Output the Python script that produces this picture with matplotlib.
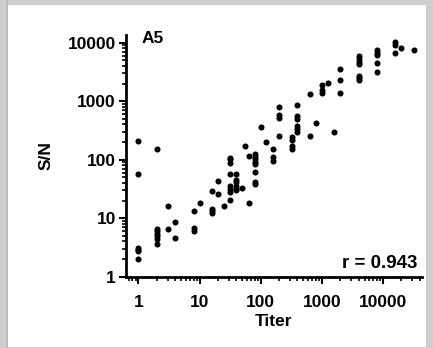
import matplotlib
matplotlib.use('Agg')
import matplotlib.pyplot as plt
from matplotlib.patches import Rectangle
from matplotlib.ticker import FixedLocator, NullFormatter

# titer (x) and S/N (y) values
titer = [1, 1, 1, 1, 1, 1,
         2, 2, 2, 2, 2, 2, 2,
         3, 3,
         4, 4,
         8, 8, 8,
         10,
         16, 16, 16, 16,
         20, 20,
         25,
         32, 32, 32, 32, 32, 32, 32, 32,
         40, 40, 40, 40, 40, 40,
         50,
         56,
         64, 64,
         80, 80, 80, 80, 80, 80, 80, 80,
         100,
         120,
         160, 160, 160,
         200, 200, 200, 200,
         320, 320, 320, 320,
         400, 400, 400, 400, 400, 400,
         640, 640,
         800,
         1000, 1000, 1000,
         1280,
         1600,
         2000, 2000, 2000,
         4000, 4000, 4000, 4000, 4000, 4000, 4000,
         8000, 8000, 8000, 8000, 8000,
         16000, 16000, 16000,
         20000,
         32000]
sn = [210, 57, 3.1, 2.9, 2.7, 2.0,
      150, 6.6, 6.0, 5.4, 4.9, 4.4, 3.6,
      16.3, 6.6,
      8.7, 4.6,
      13.5, 6.9, 6.0,
      18.5,
      29.5, 14.6, 13.3, 12.1,
      44, 25.5,
      16.4,
      108, 101, 89, 58, 35, 32, 28.5, 20.3,
      57, 45, 41, 36, 32, 30,
      32.4,
      172,
      117, 18.5,
      123, 112, 102, 90, 83, 61, 41, 38,
      366,
      203,
      155, 110, 96,
      805, 574, 516, 254,
      240, 217, 169, 152,
      860, 558, 502, 381, 339, 301,
      1320, 254,
      432,
      1900, 1550, 1400,
      2020,
      303,
      3530, 2260, 1370,
      5900, 5200, 4700, 4300, 2750, 2500, 2300,
      7400, 6700, 6200, 4550, 3150,
      10200, 9300, 6600,
      8100,
      7550]

major = [1, 10, 100, 1000, 10000]
major_labels = ['1', '10', '100', '1000', '10000']
panel = 'A5'
r_text = 'r = 0.943'

plt.rcParams['font.family'] = ['Liberation Sans', 'DejaVu Sans']
plt.rcParams['font.weight'] = 'bold'

fig = plt.figure(figsize=(4.33, 3.48), dpi=100)
fig.patch.set_facecolor('#cdcdcd')
# soft shadow on the left edge of the card
for i, c in enumerate(['#d6d6d6', '#cccccc', '#c2c2c2', '#b8b8b8']):
    fig.add_artist(Rectangle(((4 + i) / 433, 0), 1 / 433, 1,
                             transform=fig.transFigure, facecolor=c,
                             edgecolor='none', zorder=-6))
# white card on the gray frame (behind the axes)
fig.add_artist(Rectangle((8 / 433, 1 / 348), 418 / 433, 342 / 348,
                         transform=fig.transFigure, facecolor='white',
                         edgecolor='none', zorder=-5))

ax = fig.add_axes([125.7 / 433, 1 - 276.7 / 348, 296 / 433, 241.7 / 348])
ax.set_facecolor('none')
ax.scatter(titer, sn, s=19, color='black', linewidths=0, zorder=3, clip_on=False)

ax.set_xscale('log')
ax.set_yscale('log')
ax.set_xlim(0.62, 43000)
ax.set_ylim(1, 13550)

# ticks
ax.xaxis.set_major_locator(FixedLocator(major))
ax.set_xticklabels(major_labels)
ax.yaxis.set_major_locator(FixedLocator(major))
ax.set_yticklabels(major_labels)
xminor = [m * d for d in [0.1, 1, 10, 100, 1000, 10000] for m in range(2, 10)]
xminor = [v for v in xminor if 0.62 <= v <= 43000]
yminor = [m * d for d in [1, 10, 100, 1000] for m in range(2, 10)]
ax.xaxis.set_minor_locator(FixedLocator(xminor))
ax.yaxis.set_minor_locator(FixedLocator(yminor))
ax.xaxis.set_minor_formatter(NullFormatter())
ax.yaxis.set_minor_formatter(NullFormatter())

ax.tick_params(axis='both', which='major', direction='out', length=5, width=1.5,
               labelsize=12.5, color='black')
ax.tick_params(axis='both', which='minor', direction='out', length=3, width=1.2)
ax.tick_params(axis='x', which='major', pad=8)
ax.tick_params(axis='y', which='major', pad=2)

for side in ['top', 'right']:
    ax.spines[side].set_visible(False)
for side in ['left', 'bottom']:
    ax.spines[side].set_linewidth(2)

ax.set_xlabel('Titer', fontsize=12.5, fontweight='bold', labelpad=3)
ax.set_ylabel('S/N', fontsize=12.5, fontweight='bold', labelpad=10)

ax.text(0.055, 0.985, panel, transform=ax.transAxes, fontsize=12.5,
        fontweight='bold', va='center', ha='left')
ax.text(0.985, 0.055, r_text, transform=ax.transAxes, fontsize=13.5,
        fontweight='bold', va='center', ha='right')

fig.savefig('out.png', dpi=100, facecolor=fig.get_facecolor())
